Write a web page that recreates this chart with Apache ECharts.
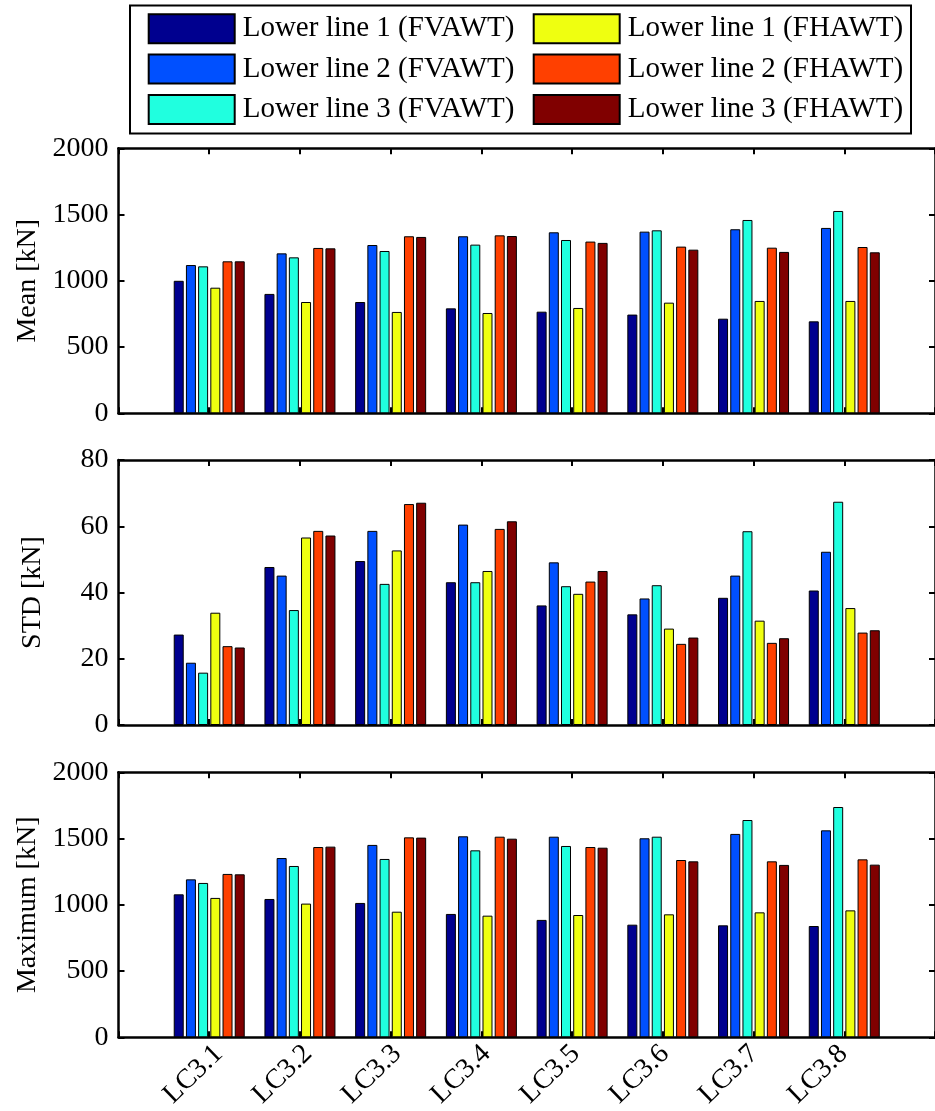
<!DOCTYPE html>
<html>
<head>
<meta charset="utf-8">
<script src="https://cdn.jsdelivr.net/npm/echarts@6/dist/echarts.min.js"></script>
<style>
html,body{margin:0;padding:0;background:#fff;}
#chart{width:935px;height:1111px;}
</style>
</head>
<body>
<div id="chart"></div>
<script>
// ---- data ----
const categories = ['LC3.1','LC3.2','LC3.3','LC3.4','LC3.5','LC3.6','LC3.7','LC3.8'];
const seriesNames = ['Lower line 1 (FVAWT)','Lower line 2 (FVAWT)','Lower line 3 (FVAWT)',
                     'Lower line 1 (FHAWT)','Lower line 2 (FHAWT)','Lower line 3 (FHAWT)'];
const seriesColors = ['#00008F','#0050FF','#20FFDF','#EFFF10','#FF4000','#800000'];

const meanL1V = [1000, 901, 840, 792, 767, 745, 714, 694];
const meanL2V = [1119, 1207, 1270, 1336, 1366, 1371, 1389, 1399];
const meanL3V = [1109, 1177, 1225, 1273, 1308, 1381, 1459, 1527];
const meanL1H = [948, 840, 765, 757, 795, 835, 848, 848];
const meanL2H = [1147, 1248, 1336, 1343, 1296, 1258, 1250, 1255];
const meanL3H = [1147, 1245, 1331, 1338, 1286, 1235, 1218, 1215];

const stdL1V = [27.3, 47.7, 49.5, 43.1, 36.1, 33.4, 38.4, 40.6];
const stdL2V = [18.8, 45.1, 58.6, 60.5, 49.1, 38.2, 45.1, 52.3];
const stdL3V = [15.8, 34.7, 42.6, 43.1, 41.9, 42.2, 58.5, 67.4];
const stdL1H = [33.9, 56.6, 52.7, 46.5, 39.6, 29.1, 31.5, 35.3];
const stdL2H = [23.8, 58.6, 66.7, 59.2, 43.3, 24.5, 24.8, 27.9];
const stdL3H = [23.4, 57.2, 67.1, 61.5, 46.5, 26.4, 26.2, 28.6];

const maxL1V = [1079, 1044, 1014, 931, 886, 850, 845, 840];
const maxL2V = [1192, 1353, 1452, 1517, 1514, 1502, 1535, 1562];
const maxL3V = [1165, 1293, 1346, 1411, 1444, 1514, 1640, 1738];
const maxL1H = [1052, 1009, 948, 918, 923, 928, 943, 958];
const maxL2H = [1233, 1436, 1509, 1514, 1436, 1338, 1328, 1343];
const maxL3H = [1230, 1439, 1507, 1499, 1431, 1328, 1301, 1303];

const panels = [
  {name: 'Mean [kN]',    max: 2000, interval: 500, data: [meanL1V, meanL2V, meanL3V, meanL1H, meanL2H, meanL3H]},
  {name: 'STD [kN]',     max: 80,   interval: 20,  data: [stdL1V, stdL2V, stdL3V, stdL1H, stdL2H, stdL3H]},
  {name: 'Maximum [kN]', max: 2000, interval: 500, data: [maxL1V, maxL2V, maxL3V, maxL1H, maxL2H, maxL3H]}
];

// ---- layout ----
const FONT = 'Liberation Serif';
const FS = 28;
const gridTops = [148.3, 460, 772.3];
const gridH = 265;
const padCats = [''].concat(categories, ['']);

const grids = [], xAxes = [], yAxes = [], series = [];
const lineStyle = {color: '#000', width: 2.5};
const tickStyle = {color: '#000', width: 2};
panels.forEach((p, i) => {
  grids.push({left: 118.5, width: 821, top: gridTops[i], height: gridH, containLabel: false});
  // bottom x axis
  xAxes.push({
    type: 'category', gridIndex: i, data: padCats, boundaryGap: false, position: 'bottom',
    axisLine: {show: true, onZero: false, lineStyle},
    axisTick: {show: true, inside: true, length: 6, lineStyle: tickStyle},
    axisLabel: {show: false}, splitLine: {show: false}
  });
  // top x axis (box)
  xAxes.push({
    type: 'category', gridIndex: i, data: padCats, boundaryGap: false, position: 'top',
    axisLine: {show: true, onZero: false, lineStyle},
    axisTick: {show: true, inside: true, length: 6, lineStyle: tickStyle},
    axisLabel: {show: false}, splitLine: {show: false}
  });
  yAxes.push({
    type: 'value', gridIndex: i, min: 0, max: p.max, interval: p.interval, position: 'left',
    name: p.name, nameLocation: 'middle', nameGap: 72,
    nameTextStyle: {fontSize: FS, fontFamily: FONT, color: '#000'},
    axisLine: {show: true, onZero: false, lineStyle},
    axisTick: {show: true, inside: true, length: 6, lineStyle: tickStyle},
    axisLabel: {fontSize: FS, fontFamily: FONT, color: '#000', margin: 10, formatter: v => String(v)},
    splitLine: {show: false}
  });
  yAxes.push({
    type: 'value', gridIndex: i, min: 0, max: p.max, interval: p.interval, position: 'right',
    axisLine: {show: true, onZero: false, lineStyle},
    axisTick: {show: true, inside: true, length: 6, lineStyle: tickStyle},
    axisLabel: {show: false}, splitLine: {show: false}
  });
  p.data.forEach((arr, k) => {
    series.push({
      type: 'bar', name: seriesNames[k],
      xAxisIndex: i * 2, yAxisIndex: i * 2,
      data: ['-'].concat(arr, ['-']),
      barWidth: 10, barGap: '22%',
      itemStyle: {color: seriesColors[k], borderColor: '#000', borderWidth: 1},
      emphasis: {disabled: true}
    });
  });
});

// label-only axis for the rotated category labels (slightly offset like the original)
grids.push({left: 129.5, width: 821, top: gridTops[2], height: gridH, containLabel: false});
xAxes.push({
  type: 'category', gridIndex: 3, data: padCats, boundaryGap: false, position: 'bottom',
  axisLine: {show: false, onZero: false}, axisTick: {show: false},
  axisLabel: {show: true, rotate: 44, fontSize: FS, fontFamily: FONT, color: '#000', margin: 30, interval: 0},
  splitLine: {show: false}
});
yAxes.push({type: 'value', gridIndex: 3, show: false, min: 0, max: 1});

const legendCommon = {
  orient: 'vertical', top: 13.3, padding: 0, itemWidth: 86, itemHeight: 29, itemGap: 9.3,
  icon: 'rect', selectedMode: false,
  textStyle: {fontSize: 29, fontFamily: FONT, color: '#000', padding: [0, 0, 0, 3]}
};

const option = {
  animation: false,
  backgroundColor: '#fff',
  grid: grids,
  xAxis: xAxes,
  yAxis: yAxes,
  series: series,
  legend: [
    Object.assign({}, legendCommon, {left: 147.7, data: seriesNames.slice(0, 3)}),
    Object.assign({}, legendCommon, {left: 532.7, data: seriesNames.slice(3, 6)})
  ],
  graphic: [{
    type: 'rect', shape: {x: 130, y: 5.5, width: 781, height: 128},
    style: {fill: 'none', stroke: '#000', lineWidth: 2}, z: 100
  }]
};

const chart = echarts.init(document.getElementById('chart'), null, {renderer: 'canvas'});
chart.setOption(option);
</script>
</body>
</html>
